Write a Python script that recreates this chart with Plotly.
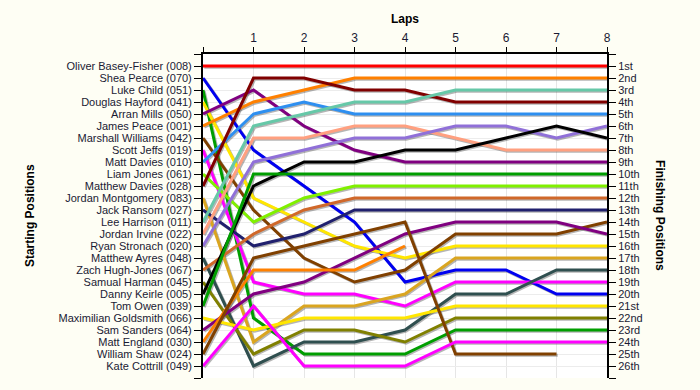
import plotly.graph_objects as go

laps = [0, 1, 2, 3, 4, 5, 6, 7, 8]

drivers = [
    "Oliver Basey-Fisher (008)", "Shea Pearce (070)", "Luke Child (051)",
    "Douglas Hayford (041)", "Arran Mills (050)", "James Peace (001)",
    "Marshall Williams (042)", "Scott Jeffs (019)", "Matt Davies (010)",
    "Liam Jones (061)", "Matthew Davies (028)", "Jordan Montgomery (083)",
    "Jack Ransom (027)", "Lee Harrison (011)", "Jordan Irvine (022)",
    "Ryan Stronach (020)", "Matthew Ayres (048)", "Zach Hugh-Jones (067)",
    "Samual Harman (045)", "Danny Keirle (005)", "Tom Owen (039)",
    "Maximilian Goldsmith (066)", "Sam Sanders (064)", "Matt England (030)",
    "William Shaw (024)", "Kate Cottrill (049)",
]

finish_labels = [
    "1st", "2nd", "3rd", "4th", "5th", "6th", "7th", "8th", "9th", "10th",
    "11th", "12th", "13th", "14th", "15th", "16th", "17th", "18th", "19th",
    "20th", "21st", "22nd", "23rd", "24th", "25th", "26th",
]

# positions per lap (lap 0 = grid), None = retired
positions = {
    "Oliver Basey-Fisher (008)": [1, 1, 1, 1, 1, 1, 1, 1, 1],
    "Shea Pearce (070)": [2, 8, 11, 14, 19, 18, 18, 20, 20],
    "Luke Child (051)": [3, 22, 25, 25, 25, 23, 23, 23, 23],
    "Douglas Hayford (041)": [4, 12, 14, 16, 17, 16, 16, 16, 16],
    "Arran Mills (050)": [5, 3, 6, 8, 9, 9, 9, 9, 9],
    "James Peace (001)": [6, 4, 3, 2, 2, 2, 2, 2, 2],
    "Marshall Williams (042)": [7, 13, 17, 19, 18, 15, 15, 15, 14],
    "Scott Jeffs (019)": [8, 19, 20, 20, 21, 19, 19, 19, 19],
    "Matt Davies (010)": [9, 5, 4, 5, 5, 5, 5, 5, 5],
    "Liam Jones (061)": [10, 14, 12, 11, 11, 11, 11, 11, 11],
    "Matthew Davies (028)": [11, 2, 2, 3, 3, 4, 4, 4, 4],
    "Jordan Montgomery (083)": [12, 24, 21, 21, 20, 17, 17, 17, 17],
    "Jack Ransom (027)": [13, 16, 15, 13, 13, 13, 13, 13, 13],
    "Lee Harrison (011)": [14, 6, 5, 4, 4, 3, 3, 3, 3],
    "Jordan Irvine (022)": [15, 7, 7, 6, 6, 7, 8, 8, 8],
    "Ryan Stronach (020)": [16, 9, 8, 7, 7, 6, 6, 7, 6],
    "Matthew Ayres (048)": [17, 26, 24, 24, 23, 20, 20, 18, 18],
    "Zach Hugh-Jones (067)": [18, 15, 13, 12, 12, 12, 12, 12, 12],
    "Samual Harman (045)": [19, 25, 23, 23, 24, 22, 22, 22, 22],
    "Danny Keirle (005)": [20, 11, 9, 9, 8, 8, 7, 6, 7],
    "Tom Owen (039)": [21, 10, 10, 10, 10, 10, 10, 10, 10],
    "Maximilian Goldsmith (066)": [22, 23, 22, 22, 22, 21, 21, 21, 21],
    "Sam Sanders (064)": [23, 20, 19, 17, 15, 14, 14, 14, 15],
    "Matt England (030)": [24, 18, 18, 18, 16, None, None, None, None],
    "William Shaw (024)": [25, 17, 16, 15, 14, 25, 25, 25, None],
    "Kate Cottrill (049)": [26, 21, 26, 26, 26, 24, 24, 24, 24],
}

colors = [
    "#ff0000", "#0000f0", "#009e00", "#ffe600", "#800080", "#ff8000",
    "#804000", "#ff00ff", "#2e8ff0", "#80f000", "#800000", "#daa520",
    "#20206e", "#66c8a8", "#ffa080", "#9070d8", "#2f4f4f", "#d0682a",
    "#808000", "#000000", "#009e00", "#ffe600", "#800080", "#ff8000",
    "#804000", "#ff00ff",
]

fig = go.Figure()

# drop shadows
for name in drivers:
    ys = positions[name]
    fig.add_trace(go.Scatter(
        x=[l + 0.025 for l in laps],
        y=[None if v is None else v + 0.1 for v in ys],
        mode="lines", line=dict(color="rgba(70,70,70,0.4)", width=3),
        hoverinfo="skip", showlegend=False))

for name, col in zip(drivers, colors):
    fig.add_trace(go.Scatter(
        x=laps, y=positions[name], mode="lines", name=name,
        line=dict(color=col, width=3), showlegend=False))

fig.add_trace(go.Scatter(x=[None], y=[None], yaxis="y2", showlegend=False,
                         hoverinfo="skip"))

FAM = "Liberation Sans, Arial, sans-serif"
font = dict(family=FAM, size=11, color="#1a1a33")
title_font = dict(family=FAM, size=12, color="#000000")
rows = list(range(0, 28))

fig.update_layout(
    width=700, height=390, autosize=False,
    margin=dict(l=203, r=93, t=54, b=12),
    paper_bgcolor="#fefef4", plot_bgcolor="#ffffff",
    font=font,
    xaxis=dict(range=[0, 8], side="top", tickvals=laps,
               ticktext=[""] + [str(l) for l in laps[1:]],
               showgrid=True, gridcolor="#e6e6e6", gridwidth=1,
               showline=True, linecolor="#000000", linewidth=2,
               ticks="outside", ticklen=5, tickcolor="#000000",
               zeroline=False, tickfont=dict(family=FAM, size=12, color="#1a1a33"),
               automargin=False),
    yaxis=dict(range=[27, 0], tickvals=rows,
               ticktext=[""] + drivers + [""],
               showgrid=True, gridcolor="#ececec", gridwidth=1,
               showline=True, linecolor="#000000", linewidth=2,
               ticks="outside", ticklen=7, tickcolor="#000000",
               zeroline=False, tickfont=font, automargin=False),
    yaxis2=dict(range=[27, 0], tickvals=rows, overlaying="y", side="right",
                ticktext=[""] + finish_labels + [""],
                showgrid=False, showline=True, linecolor="#000000", linewidth=2,
                ticks="outside", ticklen=7, tickcolor="#000000",
                zeroline=False, tickfont=font, automargin=False),
    annotations=[
        dict(text="<b>Laps</b>", xref="paper", yref="paper", x=0.5, y=1.108,
             showarrow=False, xanchor="center", yanchor="middle", font=title_font),
        dict(text="<b>Starting Positions</b>", xref="paper", yref="paper",
             x=-0.428, y=0.5, textangle=-90, showarrow=False,
             xanchor="center", yanchor="middle", font=title_font),
        dict(text="<b>Finishing Positions</b>", xref="paper", yref="paper",
             x=1.131, y=0.5, textangle=90, showarrow=False,
             xanchor="center", yanchor="middle", font=title_font),
    ],
)

fig.write_html("out.html", config={"displayModeBar": False},
               post_script="document.body.style.margin='0';")
